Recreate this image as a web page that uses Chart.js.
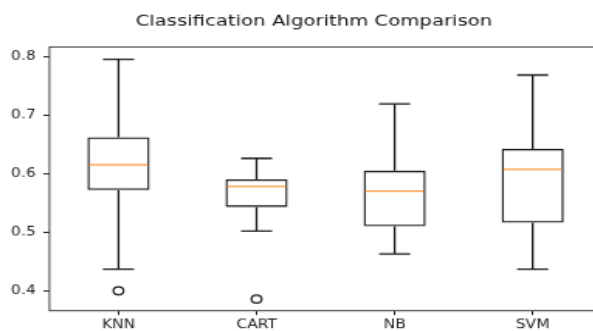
<!DOCTYPE html>
<html>
<head>
<meta charset="utf-8">
<script src="https://cdn.jsdelivr.net/npm/chart.js@4"></script>
<style>
html, body { margin: 0; padding: 0; background: #fff; overflow: hidden; }
#wrap { width: 593px; height: 331px; overflow: hidden; }
/* the reference image is a stretched matplotlib figure, so stretch the canvas the same way */
#boxChart { transform-origin: 0 0; transform: scale(1.55, 1.22); }
</style>
</head>
<body>
<div id="wrap"><canvas id="boxChart" width="405" height="272"></canvas></div>
<script>
const algorithms = ['KNN', 'CART', 'NB', 'SVM'];
const whiskerLow = [0.437, 0.502, 0.463, 0.437];
const quartile1 = [0.572, 0.543, 0.510, 0.516];
const medians = [0.615, 0.578, 0.570, 0.607];
const quartile3 = [0.662, 0.590, 0.605, 0.642];
const whiskerHigh = [0.795, 0.626, 0.719, 0.768];
const outlierNames = ['KNN', 'CART'];
const outlierValues = [0.400, 0.386];
const yTicks = [0.4, 0.5, 0.6, 0.7, 0.8];

const lineColor = '#1a1a1a';
const font = { family: 'DejaVu Sans', size: 10 };

// whiskers, caps, medians and the axes frame
const boxPlotLines = {
    id: 'boxPlotLines',
    afterDatasetsDraw(chart) {
        const { ctx, chartArea, scales: { x, y } } = chart;
        const boxes = chart.getDatasetMeta(0).data;
        ctx.save();
        algorithms.forEach((name, i) => {
            const cx = x.getPixelForValue(i);
            const half = boxes[i].width / 2;
            const cap = half / 2;
            ctx.strokeStyle = lineColor;
            ctx.lineWidth = 1.3;
            ctx.beginPath();
            ctx.moveTo(cx, y.getPixelForValue(quartile3[i]));
            ctx.lineTo(cx, y.getPixelForValue(whiskerHigh[i]));
            ctx.moveTo(cx, y.getPixelForValue(quartile1[i]));
            ctx.lineTo(cx, y.getPixelForValue(whiskerLow[i]));
            ctx.moveTo(cx - cap, y.getPixelForValue(whiskerHigh[i]));
            ctx.lineTo(cx + cap, y.getPixelForValue(whiskerHigh[i]));
            ctx.moveTo(cx - cap, y.getPixelForValue(whiskerLow[i]));
            ctx.lineTo(cx + cap, y.getPixelForValue(whiskerLow[i]));
            ctx.stroke();
            ctx.strokeStyle = '#ff7f0e';
            ctx.lineWidth = 1;
            ctx.beginPath();
            ctx.moveTo(cx - half + 1, y.getPixelForValue(medians[i]));
            ctx.lineTo(cx + half - 1, y.getPixelForValue(medians[i]));
            ctx.stroke();
        });
        ctx.strokeStyle = '#333';
        ctx.lineWidth = 0.9;
        ctx.strokeRect(chartArea.left, chartArea.top, chartArea.width, chartArea.height);
        ctx.restore();
    }
};

const ctx = document.getElementById('boxChart').getContext('2d');
new Chart(ctx, {
    type: 'bar',
    data: {
        labels: algorithms,
        datasets: [{
            label: 'IQR',
            data: algorithms.map((_, i) => [quartile1[i], quartile3[i]]),
            backgroundColor: 'rgba(0,0,0,0)',
            borderColor: lineColor,
            borderWidth: 1.3,
            borderSkipped: false,
            barPercentage: 0.45,
            categoryPercentage: 1
        }, {
            type: 'scatter',
            label: 'Outliers',
            data: outlierNames.map((n, i) => ({ x: n, y: outlierValues[i] })),
            pointRadius: 3.3,
            pointBorderWidth: 1.2,
            borderColor: lineColor,
            backgroundColor: 'rgba(0,0,0,0)'
        }]
    },
    options: {
        responsive: false,
        devicePixelRatio: 1,
        animation: false,
        layout: { padding: 0 },
        plugins: {
            legend: { display: false },
            tooltip: { enabled: false },
            title: {
                display: true,
                text: 'Classification Algorithm Comparison',
                color: '#111',
                font: { family: 'DejaVu Sans', size: 12.7, weight: 'normal' },
                padding: { top: 9.6, bottom: 13.6 }
            }
        },
        scales: {
            x: {
                type: 'category',
                offset: true,
                border: { display: false },
                grid: { offset: false, drawOnChartArea: false, drawTicks: true, tickLength: 3.5, color: lineColor, lineWidth: 1 },
                ticks: { color: '#1a1a1a', font: font, padding: 2 },
                afterFit: (s) => { s.height = 17.3; }
            },
            y: {
                min: 0.366,
                max: 0.816,
                border: { display: false },
                grid: { drawOnChartArea: false, drawTicks: true, tickLength: 3.9, color: lineColor, lineWidth: 1 },
                ticks: { color: '#1a1a1a', font: font, padding: 5, callback: (v) => v.toFixed(1) },
                afterBuildTicks: (s) => { s.ticks = yTicks.map(v => ({ value: v })); },
                afterFit: (s) => { s.width = 31.9; }
            },
            // empty right-hand margin, so the title stays centred on the whole figure
            yRight: {
                position: 'right',
                display: true,
                border: { display: false },
                grid: { display: false },
                ticks: { display: false },
                afterFit: (s) => { s.width = 16.8; }
            }
        }
    },
    plugins: [boxPlotLines]
});
</script>
</body>
</html>
